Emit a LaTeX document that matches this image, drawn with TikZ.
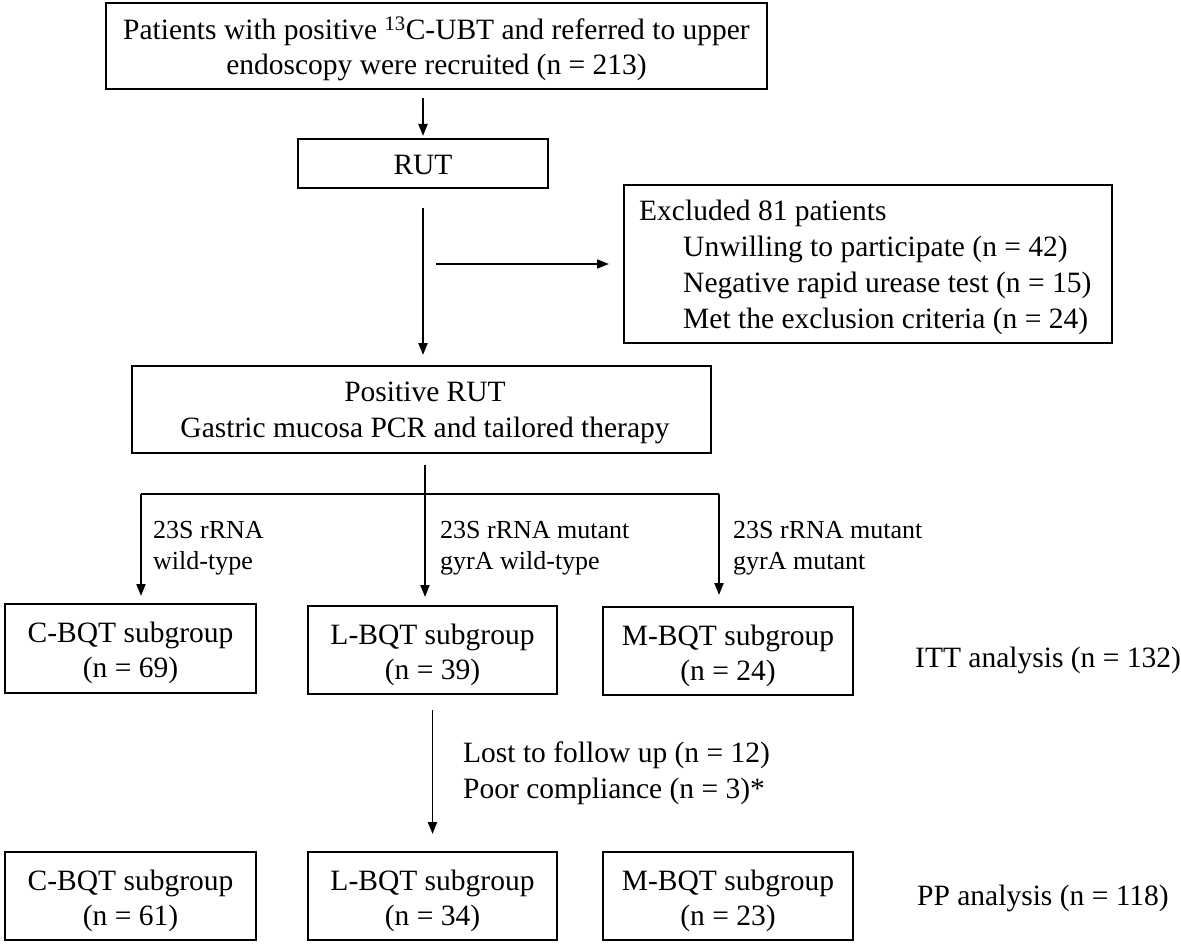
\documentclass[tikz,border=0pt]{standalone}
\usepackage{fontspec}
\setmainfont{Liberation Serif}
\usetikzlibrary{arrows.meta}
\begin{document}
\begin{tikzpicture}[x=1pt,y=-1pt,
  box/.style={draw=black, line width=2pt, inner sep=0pt, rectangle},
  txt/.style={inner sep=0pt, anchor=base, font=\fontsize{29.5}{35}\selectfont},
  txl/.style={inner sep=0pt, anchor=base west, font=\fontsize{29.5}{35}\selectfont},
  lbl/.style={inner sep=0pt, anchor=base west, font=\fontsize{26}{30}\selectfont},
  arr/.style={line width=1.8pt, -{Triangle[length=12pt,width=9pt]}},
  ln/.style={line width=1.8pt}]
\fill[white] (0,0) rectangle (1181,947);
\useasboundingbox (0,0) rectangle (1181,947);

% boxes
\node[box, minimum width=661pt, minimum height=86pt] (top) at (436.5,46) {};
\node[box, minimum width=250pt, minimum height=49pt] (rut) at (423,163.5) {};
\node[box, minimum width=488pt, minimum height=158pt] (excl) at (868,264) {};
\node[box, minimum width=579pt, minimum height=87pt] (pos) at (421.5,409.5) {};
\node[box, minimum width=251pt, minimum height=89pt] (cbqt) at (130.5,648.5) {};
\node[box, minimum width=249pt, minimum height=88pt] (lbqt) at (432.5,650) {};
\node[box, minimum width=250pt, minimum height=88pt] (mbqt) at (728,651) {};
\node[box, minimum width=251pt, minimum height=88pt] (cbqp) at (130.5,896) {};
\node[box, minimum width=249pt, minimum height=88pt] (lbqp) at (432.5,896) {};
\node[box, minimum width=250pt, minimum height=88pt] (mbqp) at (728,896) {};

% box texts
\node[txt] (t1a) at (436.5,40) {Patients with positive \textsuperscript{13}C-UBT and referred to upper};
\node[txt] (t1b) at (436.5,75) {endoscopy were recruited (n = 213)};
\node[txt] (t2) at (423,175) {RUT};
\node[txl] (t3a) at (639,220) {Excluded 81 patients};
\node[txl] (t3b) at (683,256) {Unwilling to participate (n = 42)};
\node[txl] (t3c) at (683,292) {Negative rapid urease test (n = 15)};
\node[txl] (t3d) at (683,328) {Met the exclusion criteria (n = 24)};
\node[txt] (t4a) at (425,401) {Positive RUT};
\node[txt] (t4b) at (425,437) {Gastric mucosa PCR and tailored therapy};
\node[txt] (t5a) at (130.5,642) {C-BQT subgroup};
\node[txt] (t5b) at (130.5,677) {(n = 69)};
\node[txt] (t6a) at (432.5,644) {L-BQT subgroup};
\node[txt] (t6b) at (432.5,679) {(n = 39)};
\node[txt] (t7a) at (728,645) {M-BQT subgroup};
\node[txt] (t7b) at (728,680) {(n = 24)};
\node[txt] (t8a) at (130.5,890) {C-BQT subgroup};
\node[txt] (t8b) at (130.5,925) {(n = 61)};
\node[txt] (t9a) at (432.5,890) {L-BQT subgroup};
\node[txt] (t9b) at (432.5,925) {(n = 34)};
\node[txt] (t10a) at (728,890) {M-BQT subgroup};
\node[txt] (t10b) at (728,925) {(n = 23)};

% side texts
\node[txl] (itt) at (915,667) {ITT analysis (n = 132)};
\node[txl] (pp) at (917,905) {PP analysis (n = 118)};
\node[txl] (lost1) at (463,762) {Lost to follow up (n = 12)};
\node[txl] (lost2) at (463,798) {Poor compliance (n = 3)*};

% branch labels
\node[lbl] (l1a) at (153,538) {23S rRNA};
\node[lbl] (l1b) at (153,569) {wild-type};
\node[lbl] (l2a) at (440,538) {23S rRNA mutant};
\node[lbl] (l2b) at (440,569) {gyrA wild-type};
\node[lbl] (l3a) at (733,538) {23S rRNA mutant};
\node[lbl] (l3b) at (733,569) {gyrA mutant};

% connectors
\draw[arr, shorten <=8pt, shorten >=2pt] (top.south -| rut.north) -- (rut.north);
\draw[arr, shorten <=19pt, shorten >=10pt] (rut.south) -- (rut.south |- pos.north);
\coordinate (hs) at (436,264);
\draw[arr, shorten >=14pt] (hs) -- (excl.west);

\coordinate (bl) at (141,494);
\coordinate (bm) at (425,494);
\coordinate (br) at (719,494);
\draw[ln] (bl) -- (br);
\draw[arr, shorten <=11pt, shorten >=8pt] (pos.south -| bm) -- (bm |- lbqt.north);
\draw[arr, shorten >=7pt] (bl) -- (bl |- cbqt.north);
\draw[arr, shorten >=11pt] (br) -- (br |- mbqt.north);
\draw[arr, shorten <=15pt, shorten >=17pt] (lbqt.south) -- (lbqp.north);
\end{tikzpicture}
\end{document}
